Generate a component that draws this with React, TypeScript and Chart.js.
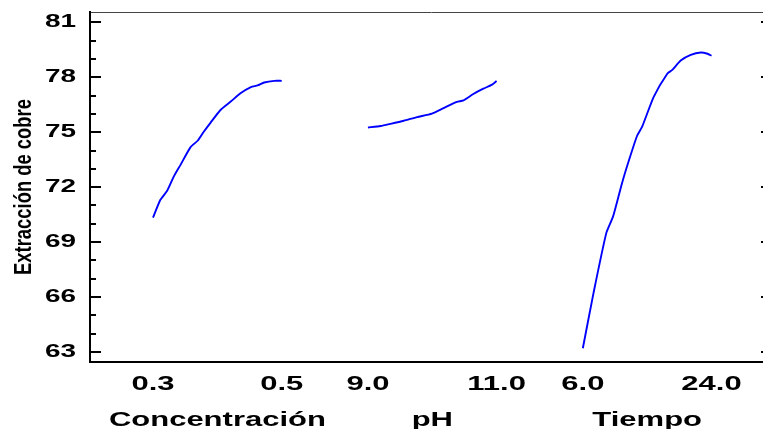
import { useEffect, useRef } from 'react';
import { Chart, registerables } from 'chart.js';

Chart.register(...registerables);

// ---- Data ----
const factorNames = ['Concentración', 'pH', 'Tiempo'];
const factorLow = [0.3, 9.0, 6.0];
const factorHigh = [0.5, 11.0, 24.0];
const factorTickLabels = ['0.3', '0.5', '9.0', '11.0', '6.0', '24.0'];

const concLevels = [0.3, 0.3114, 0.3219, 0.3322, 0.3427, 0.3583, 0.3697, 0.3791, 0.3895, 0.4052, 0.4208, 0.4364, 0.452, 0.4625, 0.4728, 0.4884, 0.5];
const concEffect = [70.34, 71.31, 71.8, 72.58, 73.22, 74.19, 74.55, 75.04, 75.53, 76.23, 76.68, 77.14, 77.47, 77.56, 77.72, 77.81, 77.81];

const phLevels = [9.0, 9.196, 9.351, 9.557, 9.764, 9.995, 10.175, 10.382, 10.484, 10.638, 10.793, 10.923, 11.0];
const phEffect = [75.26, 75.34, 75.46, 75.63, 75.83, 76.02, 76.32, 76.66, 76.74, 77.09, 77.38, 77.59, 77.8];

const timeLevels = [6.0, 7.49, 9.28, 10.22, 11.48, 12.55, 13.59, 14.3, 15.93, 17.81, 18.52, 19.69, 21.09, 22.5, 23.44, 24.0];
const timeEffect = [63.2, 66.21, 69.49, 70.39, 72.22, 73.59, 74.81, 75.31, 76.95, 78.2, 78.41, 78.92, 79.23, 79.36, 79.29, 79.18];

const yTicks = [63, 66, 69, 72, 75, 78, 81];
const yMin = 62.45;
const yMax = 81.57;
const yTitle = 'Extracción de cobre';

// ---- Layout of the three factor panels on one shared x scale ----
const segmentStart = [0, 1.67, 3.34];
const xMin = -0.49;
const xMax = 4.81;
const toPos = (i: number, v: number) =>
  segmentStart[i] + (v - factorLow[i]) / (factorHigh[i] - factorLow[i]);

const H_STRETCH = 1.55; // horizontal text is drawn wide in the reference
const V_STRETCH = 0.8; // vertical title is condensed
const FONT = '"Liberation Sans", Arial, sans-serif';

const innerTicks = {
  id: 'innerTicks',
  afterDraw(chart: any) {
    const { ctx, chartArea } = chart;
    const ys = chart.scales.y;
    ctx.save();
    ctx.strokeStyle = '#000';
    ctx.lineWidth = 2;
    for (let v = yTicks[0]; v <= yTicks[yTicks.length - 1]; v += 1) {
      const major = yTicks.includes(v);
      const len = major ? 11 : 6;
      const py = Math.round(ys.getPixelForValue(v));
      ctx.beginPath();
      ctx.moveTo(chartArea.left, py);
      ctx.lineTo(chartArea.left + len, py);
      ctx.moveTo(chartArea.right, py);
      ctx.lineTo(chartArea.right - len, py);
      ctx.stroke();
    }
    ctx.restore();
  },
};

export default function App() {
  const ref = useRef<HTMLCanvasElement>(null);

  useEffect(() => {
    const canvas = ref.current!;
    const ctx = canvas.getContext('2d')!;
    const origFill = ctx.fillText.bind(ctx);
    const origMeasure = ctx.measureText.bind(ctx);
    (ctx as any).fillText = (text: string, x: number, y: number) => {
      const t = ctx.getTransform();
      const rotated = Math.abs(t.b) > 1e-6;
      const s = rotated ? V_STRETCH : H_STRETCH;
      ctx.save();
      ctx.translate(x, y);
      ctx.scale(s, 1);
      origFill(text, 0, 0);
      ctx.restore();
    };
    (ctx as any).measureText = (text: string) => {
      const m = origMeasure(text);
      return {
        width: m.width * H_STRETCH,
        actualBoundingBoxAscent: m.actualBoundingBoxAscent,
        actualBoundingBoxDescent: m.actualBoundingBoxDescent,
        actualBoundingBoxLeft: m.actualBoundingBoxLeft * H_STRETCH,
        actualBoundingBoxRight: m.actualBoundingBoxRight * H_STRETCH,
        fontBoundingBoxAscent: m.fontBoundingBoxAscent,
        fontBoundingBoxDescent: m.fontBoundingBoxDescent,
      };
    };

    const lineStyle = {
      borderColor: '#0000ff',
      borderWidth: 1.9,
      pointRadius: 0,
      tension: 0.2,
      fill: false,
    };

    const chart = new Chart(canvas, {
      type: 'line',
      data: {
        datasets: [
          { label: factorNames[0], data: concLevels.map((v, k) => ({ x: toPos(0, v), y: concEffect[k] })), ...lineStyle },
          { label: factorNames[1], data: phLevels.map((v, k) => ({ x: toPos(1, v), y: phEffect[k] })), ...lineStyle },
          { label: factorNames[2], data: timeLevels.map((v, k) => ({ x: toPos(2, v), y: timeEffect[k] })), ...lineStyle },
        ],
      },
      options: {
        responsive: false,
        animation: false,
        devicePixelRatio: 1,
        layout: { padding: { left: 0, top: 12, right: 8, bottom: 5 } },
        plugins: { legend: { display: false }, tooltip: { enabled: false } },
        scales: {
          x: {
            type: 'linear',
            position: 'bottom',
            min: xMin,
            max: xMax,
            weight: 0,
            grid: { display: false, drawTicks: false },
            border: { display: true, color: '#000', width: 2 },
            afterBuildTicks: (s: any) => {
              s.ticks = [0, 1, 2, 3, 4, 5].map((k) => ({ value: segmentStart[Math.floor(k / 2)] + (k % 2) }));
            },
            afterFit: (s: any) => { s.height = 34; s.paddingLeft = 0; s.paddingRight = 0; },
            ticks: {
              autoSkip: false,
              maxRotation: 0,
              padding: 10,
              color: '#000',
              font: { family: FONT, size: 20, weight: 'bold' },
              callback: (_v: any, i: number) => factorTickLabels[i],
            },
          },
          xCat: {
            type: 'linear',
            position: 'bottom',
            min: xMin,
            max: xMax,
            weight: 1,
            grid: { display: false, drawTicks: false },
            border: { display: false },
            afterBuildTicks: (s: any) => {
              s.ticks = segmentStart.map((v) => ({ value: v + 0.5 }));
            },
            afterFit: (s: any) => { s.height = 39; s.paddingLeft = 0; s.paddingRight = 0; },
            ticks: {
              autoSkip: false,
              maxRotation: 0,
              padding: 12,
              color: '#000',
              font: { family: FONT, size: 20, weight: 'bold' },
              callback: (_v: any, i: number) => factorNames[i],
            },
          },
          xTop: {
            type: 'linear',
            position: 'top',
            min: xMin,
            max: xMax,
            grid: { display: false, drawTicks: false },
            border: { display: true, color: '#444', width: 1 },
            ticks: { display: false },
            afterFit: (s: any) => { s.height = 0; s.paddingLeft = 0; s.paddingRight = 0; },
          },
          y: {
            type: 'linear',
            position: 'left',
            min: yMin,
            max: yMax,
            grid: { display: false, drawTicks: false },
            border: { display: true, color: '#000', width: 2 },
            afterBuildTicks: (s: any) => {
              s.ticks = yTicks.map((v) => ({ value: v }));
            },
            afterFit: (s: any) => { s.width = 90; s.paddingTop = 0; s.paddingBottom = 0; },
            ticks: {
              padding: 14,
              color: '#000',
              font: { family: FONT, size: 18, weight: 'bold' },
              callback: (v: any) => String(v),
            },
            title: {
              display: true,
              text: yTitle,
              color: '#000',
              padding: { top: 11, bottom: 0 },
              font: { family: FONT, size: 23, weight: 'bold' },
            },
          },
          y2: {
            type: 'linear',
            position: 'right',
            min: yMin,
            max: yMax,
            grid: { display: false, drawTicks: false },
            border: { display: true, color: '#000', width: 2 },
            ticks: { display: false },
            afterFit: (s: any) => { s.width = 0; s.paddingTop = 0; s.paddingBottom = 0; },
          },
        },
      },
      plugins: [innerTicks],
    } as any);

    return () => {
      chart.destroy();
    };
  }, []);

  return (
    <div
      style={{
        position: 'fixed',
        left: 0,
        top: 0,
        width: 763,
        height: 429,
        overflow: 'hidden',
        background: '#fff',
      }}
    >
      <canvas ref={ref} width={780} height={440} style={{ display: 'block' }} />
    </div>
  );
}
